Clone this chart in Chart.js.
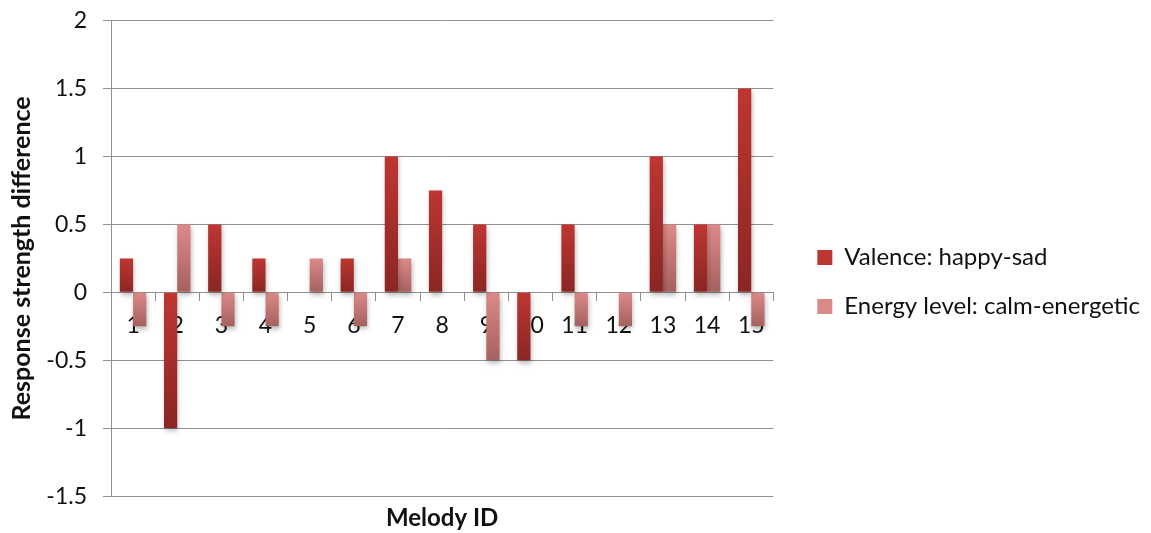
<!DOCTYPE html>
<html><head><meta charset="utf-8">
<script src="https://cdn.jsdelivr.net/npm/chart.js@4.4.1/dist/chart.umd.min.js"></script>
<style>html,body{margin:0;padding:0;background:#fff}canvas{display:block}</style>
</head><body>
<canvas id="c" width="1151" height="533"></canvas>
<script>
const categories = ['1','2','3','4','5','6','7','8','9','10','11','12','13','14','15'];
const valence = [0.25, -1, 0.5, 0.25, 0, 0.25, 1, 0.75, 0.5, -0.5, 0.5, 0, 1, 0.5, 1.5];
const energy = [-0.25, 0.5, -0.25, -0.25, 0.25, -0.25, 0.25, 0, -0.5, 0, -0.25, -0.25, 0.5, 0.5, -0.25];
const yTicks = [-1.5, -1, -0.5, 0, 0.5, 1, 1.5, 2];
const seriesNames = ['Valence: happy-sad', 'Energy level: calm-energetic'];

const FONT = 'Lato';
const GRID = '#8f8f8f';
const TXT = '#111111';
const COLS = [['#be3632', '#8a2624'], ['#dc8a88', '#a4615f']];

function grad(top, bottom) {
  return function(ctx) {
    const chart = ctx.chart;
    const area = chart.chartArea;
    if (!area || ctx.type !== 'data') return top;
    const y = chart.scales.y;
    const p0 = y.getPixelForValue(0), p1 = y.getPixelForValue(ctx.raw);
    const a = Math.min(p0, p1), b = Math.max(p0, p1);
    if (b - a < 1) return top;
    const g = chart.ctx.createLinearGradient(0, a, 0, b);
    g.addColorStop(0, top);
    g.addColorStop(1, bottom);
    return g;
  };
}

const barShadow = {
  id: 'barShadow',
  beforeDatasetsDraw(chart) {
    const c = chart.ctx;
    c.save();
    c.shadowColor = 'rgba(0,0,0,0.28)';
    c.shadowBlur = 5;
    c.shadowOffsetX = 1;
    c.shadowOffsetY = 3;
  },
  afterDatasetsDraw(chart) { chart.ctx.restore(); }
};

function build() {
new Chart(document.getElementById('c'), {
  type: 'bar',
  data: {
    labels: categories,
    datasets: [
      { label: seriesNames[0], data: valence, backgroundColor: grad(COLS[0][0], COLS[0][1]), categoryPercentage: 0.6, barPercentage: 1.0, xAxisID: 'x', yAxisID: 'y' },
      { label: seriesNames[1], data: energy, backgroundColor: grad(COLS[1][0], COLS[1][1]), categoryPercentage: 0.6, barPercentage: 1.0, xAxisID: 'x', yAxisID: 'y' }
    ]
  },
  plugins: [barShadow],
  options: {
    responsive: false,
    animation: false,
    layout: { padding: { top: 0, left: 0, right: 1, bottom: 0 } },
    plugins: {
      legend: {
        position: 'right',
        maxWidth: 420,
        title: { display: true, text: ' ', font: { family: FONT, size: 14 }, padding: 7 },
        labels: {
          font: { family: FONT, size: 24 },
          color: TXT,
          boxWidth: 15, boxHeight: 15,
          padding: 25,
          generateLabels(chart) {
            return chart.data.datasets.map((ds, i) => ({
              text: ds.label,
              fillStyle: COLS[i][0],
              fontColor: TXT,
              strokeStyle: 'rgba(0,0,0,0)',
              lineWidth: 0,
              datasetIndex: i,
              hidden: false
            }));
          }
        }
      },
      tooltip: { enabled: false }
    },
    scales: {
      x: {
        position: { y: 0 },
        grid: { display: true, drawOnChartArea: false, drawTicks: true, tickLength: 8, offset: true, color: GRID },
        border: { display: true, color: GRID, width: 1 },
        ticks: { font: { family: FONT, size: 23 }, color: TXT, padding: 11, maxRotation: 0 }
      },
      x2: {
        type: 'category',
        labels: categories,
        position: 'bottom',
        grid: { display: false },
        border: { display: false },
        ticks: { display: false },
        title: { display: true, text: 'Melody ID', font: { family: FONT, size: 24, weight: 'bold' }, color: TXT, padding: { top: 0, bottom: 0 } }
      },
      y: {
        min: -1.5, max: 2,
        afterBuildTicks(scale) { scale.ticks = yTicks.map(v => ({ value: v })); },
        grid: { color: GRID, tickLength: 8, lineWidth: 1 },
        border: { display: true, color: GRID },
        ticks: { font: { family: FONT, size: 23, lineHeight: 0.4 }, color: TXT, padding: 16, callback: v => String(v) },
        title: { display: true, text: 'Response strength difference', font: { family: FONT, size: 25, weight: 'bold' }, color: TXT, padding: { top: 7, bottom: 8 } },
        afterFit(scale) { scale.width = 111; }
      },
      yGap: {
        type: 'linear',
        position: 'right',
        display: true,
        grid: { display: false },
        border: { display: false },
        ticks: { display: false },
        afterFit(scale) { scale.width = 19; }
      }
    }
  }
});
}
if (document.fonts && document.fonts.load) {
  Promise.all([document.fonts.load('23px Lato'), document.fonts.load('bold 23px Lato')]).then(build, build);
} else { build(); }
</script>
</body></html>
